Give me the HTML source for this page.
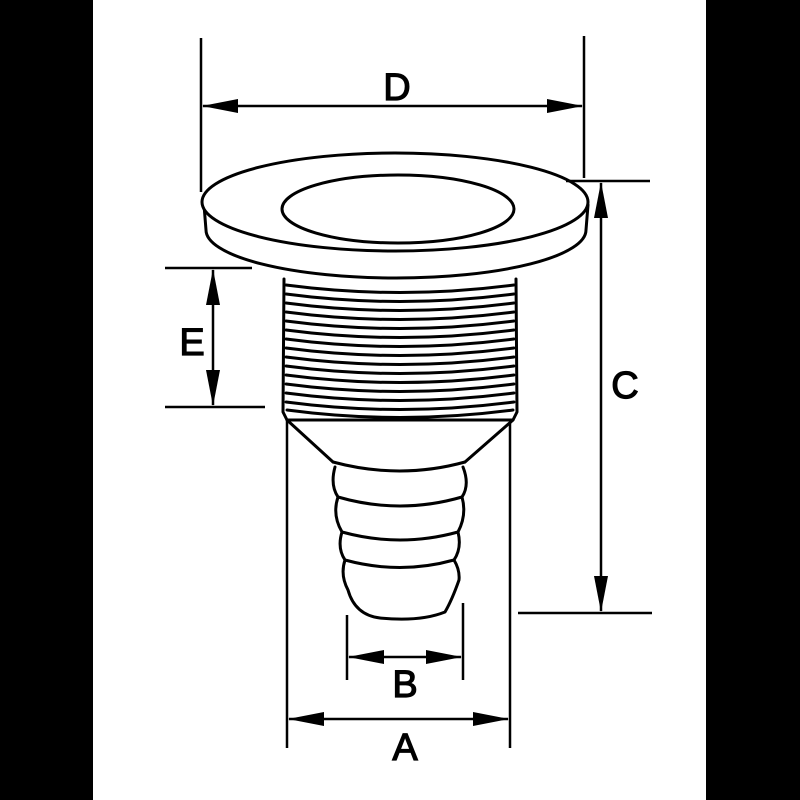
<!DOCTYPE html>
<html><head><style>html,body{margin:0;padding:0;background:#000}svg{display:block}</style></head>
<body>
<svg width="800" height="800" viewBox="0 0 800 800" xmlns="http://www.w3.org/2000/svg">
<rect x="0" y="0" width="800" height="800" fill="#000"/>
<rect x="93" y="0" width="613" height="800" fill="#fff"/>
<g fill="none" stroke="#000" stroke-width="3" stroke-linecap="round" stroke-linejoin="round">
<path d="M204,205 L206,230 A190,48 0 0 0 586,230 L588,205" fill="#fff"/>
<ellipse cx="395" cy="202" rx="193" ry="49" fill="#fff"/>
<ellipse cx="398" cy="209" rx="116" ry="34" fill="#fff"/>
<path d="M284,279 L283,412 L287,420 L513,420 L517,412 L516,279"/>
<path d="M287,420 L333,462 M513,420 L465,462"/>
<path d="M286,285 Q400,300 514,285"/>
<path d="M286,294 Q400,309 514,294"/>
<path d="M286,303 Q400,318 514,303"/>
<path d="M286,312 Q400,327 514,312"/>
<path d="M286,321 Q400,336 514,321"/>
<path d="M286,330 Q400,345 514,330"/>
<path d="M286,339 Q400,354 514,339"/>
<path d="M286,348 Q400,363 514,348"/>
<path d="M286,357 Q400,372 514,357"/>
<path d="M286,366 Q400,381 514,366"/>
<path d="M286,375 Q400,390 514,375"/>
<path d="M286,384 Q400,399 514,384"/>
<path d="M286,393 Q400,408 514,393"/>
<path d="M286,402 Q400,417 514,402"/>
<path d="M287,410 Q400,425 513,410"/>
<path d="M333,462 Q400,480 465,462"/>
<path d="M335,467 Q330,485 338,497 Q400,515 462,497 Q470,485 463,467"/>
<path d="M338,497 Q332,515 342,532 Q400,548 458,532 Q467,515 462,497"/>
<path d="M342,532 Q337,548 345,560 Q400,575 454,560 Q462,548 458,532"/>
<path d="M345,560 Q340,575 348,590 Q355,615 380,618 Q420,622 445,612 Q452,600 459,580 Q460,570 454,560"/>
</g>
<g stroke="#000" stroke-width="2.5" fill="none">
<line x1="201" y1="38" x2="201" y2="192"/>
<line x1="584" y1="36" x2="584" y2="178"/>
<line x1="203" y1="106" x2="582" y2="106"/>
<line x1="566" y1="181" x2="650" y2="181"/>
<line x1="518" y1="613" x2="652" y2="613"/>
<line x1="601" y1="183" x2="601" y2="611"/>
<line x1="165" y1="268" x2="252" y2="268"/>
<line x1="165" y1="407" x2="265" y2="407"/>
<line x1="213" y1="270" x2="213" y2="405"/>
<line x1="347" y1="615" x2="347" y2="680"/>
<line x1="463" y1="603" x2="463" y2="680"/>
<line x1="349" y1="657" x2="461" y2="657"/>
<line x1="287" y1="420" x2="287" y2="748"/>
<line x1="510" y1="422" x2="510" y2="748"/>
<line x1="289" y1="719" x2="508" y2="719"/>
</g>
<g fill="#000">
<!-- D -->
<polygon points="202,106 238,99 238,113"/>
<polygon points="583,106 547,99 547,113"/>
<!-- C -->
<polygon points="601,182 594,218 608,218"/>
<polygon points="601,612 594,576 608,576"/>
<!-- E -->
<polygon points="213,269 206,305 220,305"/>
<polygon points="213,406 206,370 220,370"/>
<!-- B -->
<polygon points="348,657 384,650 384,664"/>
<polygon points="462,657 426,650 426,664"/>
<!-- A -->
<polygon points="288,719 324,712 324,726"/>
<polygon points="509,719 473,712 473,726"/>
</g>
<g font-family="Liberation Sans, sans-serif" font-size="38" fill="#000" stroke="#000" stroke-width="1.2" text-anchor="middle">
<text x="397" y="100">D</text>
<text x="625" y="398">C</text>
<text x="192" y="355">E</text>
<text x="405" y="697">B</text>
<text x="405" y="760">A</text>
</g>
</svg>
</body></html>
